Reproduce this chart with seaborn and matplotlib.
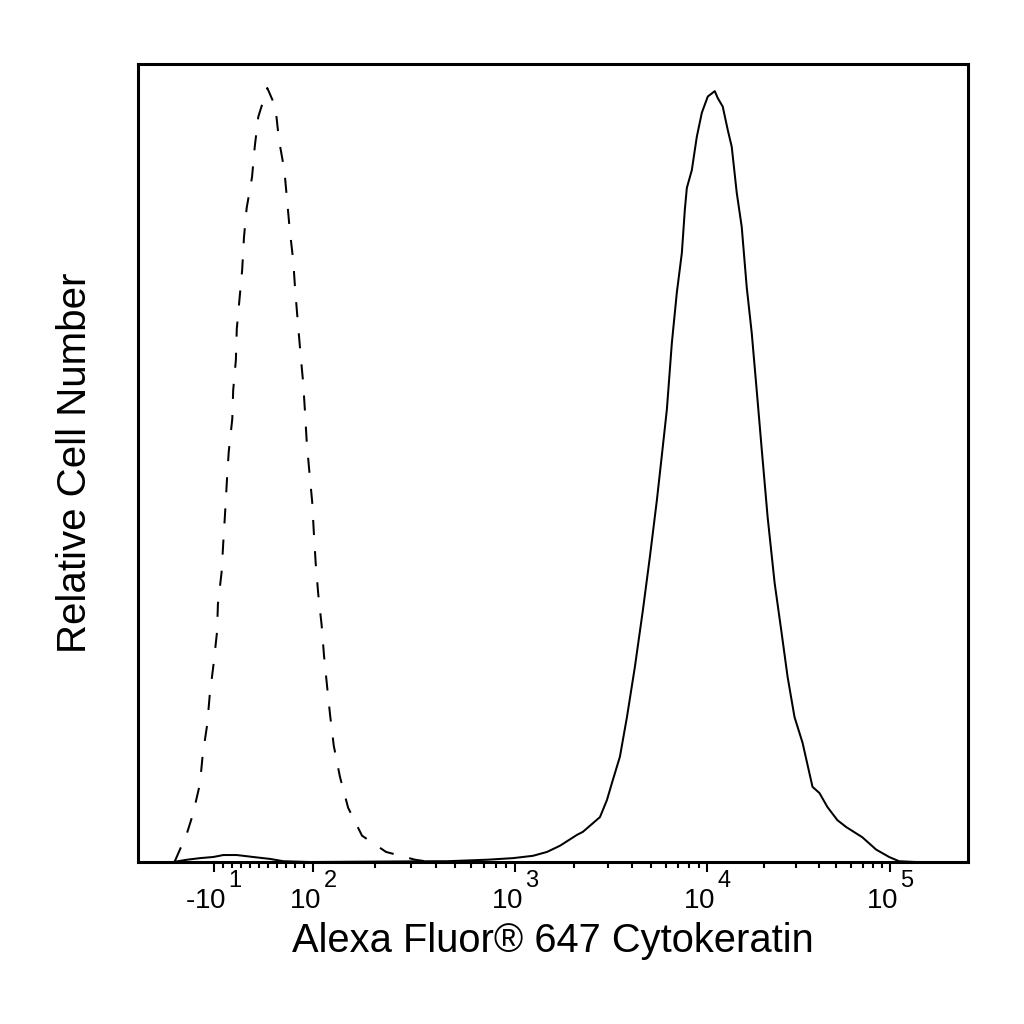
import numpy as np
import pandas as pd
import matplotlib
matplotlib.use("Agg")
import matplotlib.pyplot as plt
import matplotlib._mathtext as mathtext_internal
import seaborn as sns

sns.set_style("white")
plt.rcParams['font.family'] = ['Liberation Sans', 'DejaVu Sans']
plt.rcParams['mathtext.fontset'] = 'custom'
plt.rcParams['mathtext.rm'] = 'Liberation Sans'
plt.rcParams['mathtext.it'] = 'Liberation Sans:italic'
for key in ['text.color', 'axes.labelcolor', 'xtick.color', 'ytick.color']:
    plt.rcParams[key] = 'black'

# exponents in the flow-cytometry style: large and raised well above the base
mathtext_internal.SHRINK_FACTOR = 0.85
mathtext_internal.FontConstantsBase.sup1 = 1.4

# isotype control (dashed) - intensity, relative count
iso_x = [-54, -48, -43, -34, -26, -23, -18, -15, -11, -7, -6, -2, 0, 2, 4, 6, 10, 11, 14, 15,
         18, 21, 23, 26, 32, 35, 39, 49, 58, 62, 68, 71, 74, 78, 80, 83, 86, 89, 91, 93, 96, 99,
         101, 103, 106, 110, 113, 117, 121, 126, 135, 148, 173, 227, 315, 354]
iso_y = [0.1, 1.7, 2.8, 6.1, 10.1, 13.8, 17.7, 21.7, 25.4, 29.7, 33.3, 37.3, 41.3, 45.1, 49.2,
         52.9, 57.2, 60.9, 64.8, 68.8, 72.6, 76.4, 80.6, 84.4, 88.4, 92.3, 96.2, 99.9, 97.5, 93.2,
         89.3, 85.5, 81.6, 77.5, 73.9, 69.7, 65.6, 61.8, 58.1, 54.1, 50.2, 46.5, 42.2, 38.5, 34.5,
         30.6, 26.6, 22.6, 18.9, 15.0, 11.0, 7.0, 3.4, 1.3, 0.3, 0.1]

# Alexa Fluor 647 cytokeratin (solid)
ck_x = [-56, -40, -26, -11, 0, 15, 33, 52, 67, 97, 388, 455, 730, 977, 1234, 1455, 1696, 2073,
        2226, 2726, 2962, 3145, 3460, 3764, 4142, 4560, 4963, 5400, 5736, 6095, 6476, 6880, 7313,
        7585, 7772, 8259, 8778, 9333, 10041, 10942, 11352, 12070, 12836, 13489, 14344, 15256,
        16234, 17275, 18375, 19543, 21060, 22983, 25065, 27029, 29488, 32613, 36984, 40385,
        44668, 50700, 56825, 69663, 83293, 98401, 111920, 139380]
ck_y = [0, 0.3, 0.5, 0.65, 0.9, 0.9, 0.65, 0.4, 0.1, 0, 0.1, 0.1, 0.3, 0.5, 0.8, 1.3, 2.1, 3.5,
        3.9, 5.8, 8.0, 10.2, 13.6, 18.7, 25.2, 32.5, 39.4, 46.7, 52.5, 58.4, 67.0, 73.5, 78.6,
        84.2, 87.0, 89.3, 93.6, 96.7, 98.8, 99.5, 98.6, 97.5, 94.5, 92.3, 86.4, 82.0, 74.2, 68.3,
        60.9, 53.4, 44.5, 36.0, 29.6, 23.9, 18.7, 15.4, 9.7, 8.9, 7.1, 5.4, 4.5, 3.2, 1.6, 0.65,
        0.1, 0]

major_ticks = [-10, 100, 1000, 10000, 100000]
major_labels = ['-$10^{\\,1}$', '$10^{\\,2}$', '$10^{\\,3}$', '$10^{\\,4}$', '$10^{\\,5}$']
minor_ticks = ([0, 10, 20, 30, 40, 50, 60, 70, 80, 90]
               + [m * 10 ** e for e in (2, 3, 4) for m in range(2, 10)])

K = 0.023  # slight compression of the upper decades


def fwd(x):
    x = np.asarray(x, dtype=float)
    L = np.where(x >= 100, np.log10(np.maximum(x, 100)), 2 + (x - 100) / (100 * np.log(10)))
    u = L - 2
    return np.where(u >= 0, u - K * u ** 2, u)


def inv(t):
    t = np.asarray(t, dtype=float)
    u = np.where(t >= 0, (1 - np.sqrt(np.maximum(1 - 4 * K * t, 0))) / (2 * K), t)
    return np.where(u >= 0, 10 ** (2 + np.minimum(u, 10)), 100 + u * 100 * np.log(10))


df = pd.concat([
    pd.DataFrame({"intensity": iso_x, "count": iso_y, "sample": "Isotype"}),
    pd.DataFrame({"intensity": ck_x, "count": ck_y, "sample": "Cytokeratin"}),
])

fig = plt.figure(figsize=(10.24, 10.24), dpi=100)
ax = fig.add_axes([0.1348, 0.1582, 0.8105, 0.7793])
ax.set_xscale('function', functions=(fwd, inv))

sns.lineplot(data=df, x="intensity", y="count", style="sample",
             dashes={"Isotype": (7.5, 8), "Cytokeratin": ""},
             color="black", linewidth=1.45, estimator=None, sort=False,
             legend=False, ax=ax)

ax.set_xlim(-95, 276000)
ax.set_ylim(0, 103)
ax.set_xticks(major_ticks)
ax.set_xticklabels(major_labels)
ax.set_xticks(minor_ticks, minor=True)
ax.set_yticks([])
ax.tick_params(axis='x', which='major', direction='out', length=7, width=1.5,
               labelsize=20, pad=0, bottom=True)
ax.tick_params(axis='x', which='minor', direction='out', length=4, width=1.5, bottom=True)
for s in ax.spines.values():
    s.set_linewidth(2.2)
    s.set_color('black')

ax.set_xlabel("Alexa Fluor® 647 Cytokeratin", fontsize=28.7, labelpad=5)
ax.set_ylabel("Relative Cell Number", fontsize=29, labelpad=32)

fig.savefig("out.png", dpi=100, facecolor="white")
